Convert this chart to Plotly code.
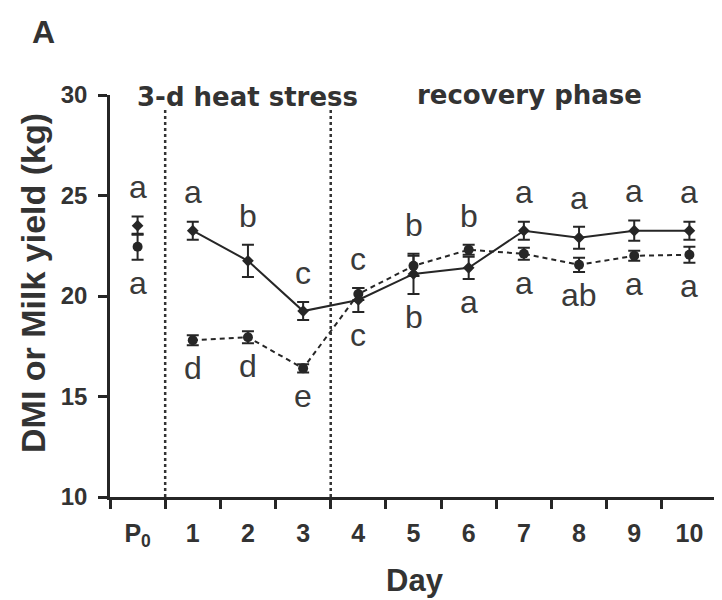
import plotly.graph_objects as go

# ---- data ----
days = ["P0", "1", "2", "3", "4", "5", "6", "7", "8", "9", "10"]
day_labels = ["P<sub>0</sub>", "1", "2", "3", "4", "5", "6", "7", "8", "9", "10"]

solid_mean = [23.5, 23.25, 21.75, 19.25, 19.8, 21.1, 21.4, 23.25, 22.9, 23.25, 23.25]
solid_err = [0.45, 0.45, 0.8, 0.45, 0.6, 1.0, 0.55, 0.45, 0.55, 0.5, 0.45]

dashed_mean = [22.45, 17.8, 17.95, 16.4, 20.1, 21.5, 22.3, 22.1, 21.55, 22.0, 22.05]
dashed_err = [0.65, 0.25, 0.3, 0.2, 0.3, 0.5, 0.25, 0.3, 0.35, 0.25, 0.4]

upper_letters = ["a", "a", "b", "c", "c", "b", "b", "a", "a", "a", "a"]
lower_letters = ["a", "d", "d", "e", "c", "b", "a", "a", "ab", "a", "a"]

phase_labels = ["3-d heat stress", "recovery phase"]

INK = "#262626"
TXT = "#333333"
FONT = "Liberation Sans, Arial, sans-serif"
WIDE = "DejaVu Sans, Liberation Sans, sans-serif"

# page body has an 8px margin: figure drawn at (8,8) in the window
W, H = 714, 592
L, R, T, B = 102, 5, 87, 103
PW, PH = W - L - R, H - T - B


def px(xp):
    return (xp - 8 - L) / PW


def py(yp):
    return (H - B - (yp - 8)) / PH


fig = go.Figure()


def add_series(mean, err, symbol, msize, dash, name):
    eb = dict(type="data", visible=True, thickness=2, width=6, color=INK)
    fig.add_trace(go.Scatter(
        x=days[:1], y=mean[:1],
        error_y=dict(eb, array=err[:1]),
        mode="markers", marker=dict(symbol=symbol, size=msize, color=INK),
        showlegend=False, name=name))
    fig.add_trace(go.Scatter(
        x=days[1:], y=mean[1:],
        error_y=dict(eb, array=err[1:]),
        mode="lines+markers",
        line=dict(color=INK, width=2, dash=dash),
        marker=dict(symbol=symbol, size=msize, color=INK),
        showlegend=False, name=name))


add_series(dashed_mean, dashed_err, "circle", 10, "5px,4px", "dashed")
add_series(solid_mean, solid_err, "diamond", 9, "solid", "solid")

# significance letters
for i, d in enumerate(days):
    top = max(solid_mean[i] + solid_err[i], dashed_mean[i] + dashed_err[i])
    bot = min(solid_mean[i] - solid_err[i], dashed_mean[i] - dashed_err[i])
    fig.add_annotation(x=d, y=top + 1.45, text=upper_letters[i], showarrow=False,
                       font=dict(family=FONT, size=32, color="#3a3a3a"),
                       xanchor="center", yanchor="middle")
    fig.add_annotation(x=d, y=bot - 1.15, text=lower_letters[i], showarrow=False,
                       font=dict(family=FONT, size=32, color="#3a3a3a"),
                       xanchor="center", yanchor="middle")

# phase separators (dotted)
for xb, ytop in [(0.5, 29.3), (3.5, 29.3), (10.5, 30)]:
    fig.add_shape(type="line", x0=xb, x1=xb, y0=10, y1=ytop, xref="x", yref="y",
                  line=dict(color="#333333", width=2.5, dash="dot"), layer="above")

# phase labels
fig.add_annotation(x=px(247), y=py(97), xref="paper", yref="paper",
                   text="<b>" + phase_labels[0] + "</b>", showarrow=False,
                   font=dict(family=WIDE, size=26, color=TXT), xanchor="center", yanchor="middle")
fig.add_annotation(x=px(529), y=py(95), xref="paper", yref="paper",
                   text="<b>" + phase_labels[1] + "</b>", showarrow=False,
                   font=dict(family=WIDE, size=26, color=TXT), xanchor="center", yanchor="middle")

# panel letter
fig.add_annotation(x=px(43), y=py(32), xref="paper", yref="paper", text="<b>A</b>", showarrow=False,
                   font=dict(family=FONT, size=32, color=TXT), xanchor="center", yanchor="middle")

# axis titles
fig.add_annotation(x=px(415), y=py(580), xref="paper", yref="paper", text="<b>Day</b>", showarrow=False,
                   font=dict(family=FONT, size=31, color=TXT), xanchor="center", yanchor="middle")
fig.add_annotation(x=px(33), y=py(283), xref="paper", yref="paper", text="<b>DMI or Milk yield (kg)</b>",
                   showarrow=False, textangle=-90,
                   font=dict(family=FONT, size=34, color=TXT), xanchor="center", yanchor="middle")

fig.update_xaxes(
    type="category", categoryorder="array", categoryarray=days,
    range=[-0.5, 10.5], tickmode="array", tickvals=days, ticktext=day_labels,
    tickson="boundaries", ticks="outside", ticklen=9, tickwidth=2.5, tickcolor=INK,
    ticklabelstandoff=12,
    showline=True, linewidth=2.5, linecolor=INK, showgrid=False, zeroline=False,
    tickfont=dict(family=FONT, size=25, color=TXT, weight="bold"),
)
fig.update_yaxes(
    range=[10, 30], tickmode="array", tickvals=[10, 15, 20, 25, 30],
    ticks="outside", ticklen=9, tickwidth=2.5, tickcolor=INK,
    ticklabelstandoff=6,
    showline=True, linewidth=2.5, linecolor=INK, showgrid=False, zeroline=False,
    tickfont=dict(family=FONT, size=24, color=TXT, weight="bold"),
)

fig.update_layout(
    width=W, height=H,
    margin=dict(l=L, r=R, t=T, b=B, autoexpand=False),
    paper_bgcolor="white", plot_bgcolor="white",
    showlegend=False,
)

fig.write_html("out.html")
